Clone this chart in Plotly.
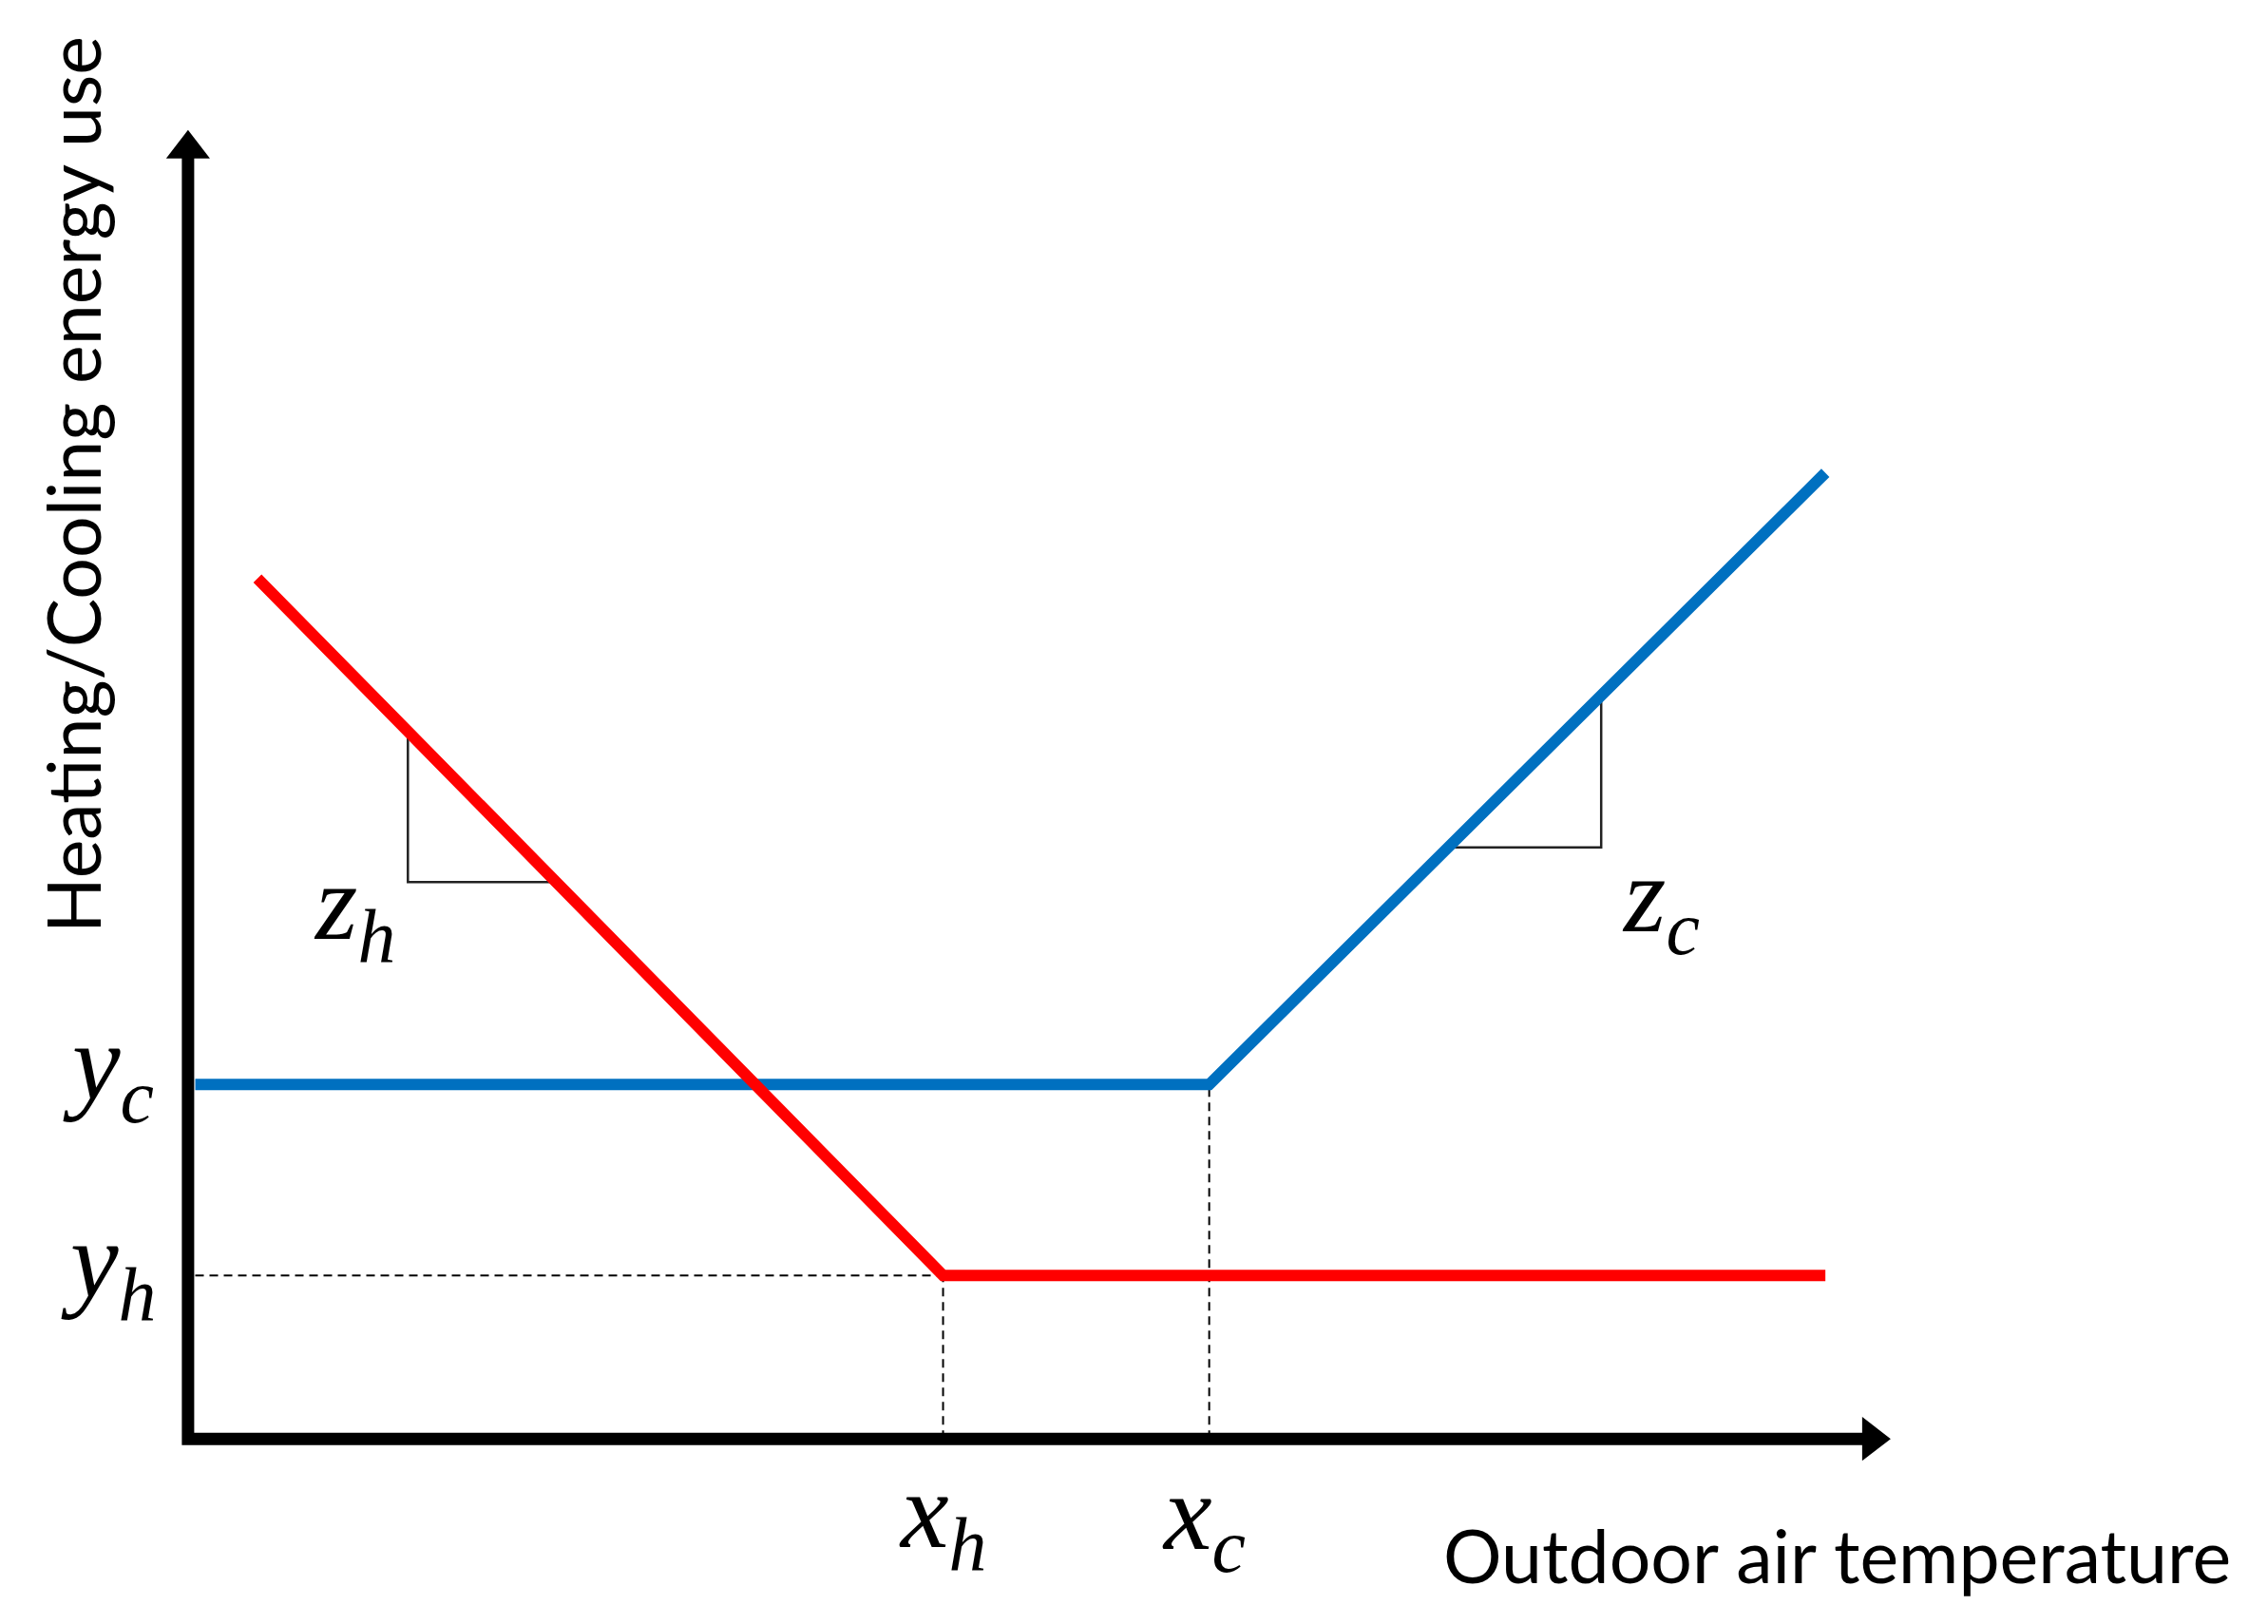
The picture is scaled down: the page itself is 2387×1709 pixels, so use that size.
import plotly.graph_objects as go

# Change points of the piecewise model (diagram units)
x_h = 5.22
x_c = 7.06
y_h = 1.13
y_c = 2.45

# Heating (red) and cooling (blue) energy use lines
heating_x = [0.48, x_h, 11.32]
heating_y = [5.95, y_h, y_h]
cooling_x = [0.05, x_c, 11.32]
cooling_y = [y_c, y_c, 6.68]

# Slope markers
slope_h_x = [1.52, 1.52, 2.53]
slope_h_y = [4.90, 3.85, 3.85]
slope_c_x = [8.73, 9.77, 9.77]
slope_c_y = [4.09, 4.09, 5.12]

# Axis extents (arrow tips)
x_axis_end = 11.77
y_axis_end = 9.05

RED = '#FF0000'
BLUE = '#0070C0'
MATH_FONT = dict(family='Liberation Serif', size=114, color='black')
TEXT_FONT = dict(family='Lato', size=77, color='black')

# page offset of the plot div (body margin), in data units
SHIFT = 0.0526

fig = go.Figure()

# Axes drawn as a single polyline + triangle heads
fig.add_trace(go.Scatter(
    x=[0, 0, x_axis_end - 0.15], y=[y_axis_end - 0.15, 0, 0],
    mode='lines', line=dict(color='black', width=13), hoverinfo='skip'
))
fig.add_trace(go.Scatter(
    x=[0], y=[y_axis_end - 0.13], mode='markers',
    marker=dict(symbol='triangle-up', size=40, color='black'), hoverinfo='skip'
))
fig.add_trace(go.Scatter(
    x=[x_axis_end - 0.13], y=[0], mode='markers',
    marker=dict(symbol='triangle-right', size=40, color='black'), hoverinfo='skip'
))

# Dashed guide lines
dash = dict(color='black', width=2, dash='9px,6px')
fig.add_trace(go.Scatter(x=[0.05, x_h], y=[y_h, y_h], mode='lines', line=dash))
fig.add_trace(go.Scatter(x=[x_h, x_h], y=[0, y_h], mode='lines', line=dash))
fig.add_trace(go.Scatter(x=[x_c, x_c], y=[0, y_c], mode='lines', line=dash))

# Slope triangles
fig.add_trace(go.Scatter(x=slope_h_x, y=slope_h_y, mode='lines',
                         line=dict(color='#222222', width=2.5)))
fig.add_trace(go.Scatter(x=slope_c_x, y=slope_c_y, mode='lines',
                         line=dict(color='#222222', width=2.5)))

# Model lines
fig.add_trace(go.Scatter(x=cooling_x, y=cooling_y, mode='lines',
                         line=dict(color=BLUE, width=12)))
fig.add_trace(go.Scatter(x=heating_x, y=heating_y, mode='lines',
                         line=dict(color=RED, width=12)))

# Labels
labels = [
    (1.15, 3.66, 'z<sub>h</sub>'),
    (10.18, 3.71, 'z<sub>c</sub>'),
    (-0.55, 2.55, 'y<sub>c</sub>'),
    (-0.55, 1.18, 'y<sub>h</sub>'),
    (x_h, -0.55, 'x<sub>h</sub>'),
    (x_c - 0.04, -0.56, 'x<sub>c</sub>'),
]
for lx, ly, txt in labels:
    fig.add_annotation(x=lx, y=ly, text='<i>' + txt + '</i>', showarrow=False,
                       xanchor='center', yanchor='middle', font=MATH_FONT)

fig.add_annotation(x=11.40, y=-0.80, text='Outdoor air temperature', showarrow=False,
                   xanchor='center', yanchor='middle', font=TEXT_FONT)
fig.add_annotation(x=-0.80, y=6.60, text='Heating/Cooling energy use', showarrow=False,
                   textangle=-90, xanchor='center', yanchor='middle', font=TEXT_FONT)

fig.update_layout(
    width=2387, height=1709,
    margin=dict(l=0, r=0, t=0, b=0),
    paper_bgcolor='white', plot_bgcolor='white',
    showlegend=False,
    xaxis=dict(range=[-1.30 + SHIFT, 14.38 + SHIFT], visible=False, fixedrange=True),
    yaxis=dict(range=[-1.28 - SHIFT, 9.95 - SHIFT], visible=False, fixedrange=True),
)

fig.write_html("out.html")
